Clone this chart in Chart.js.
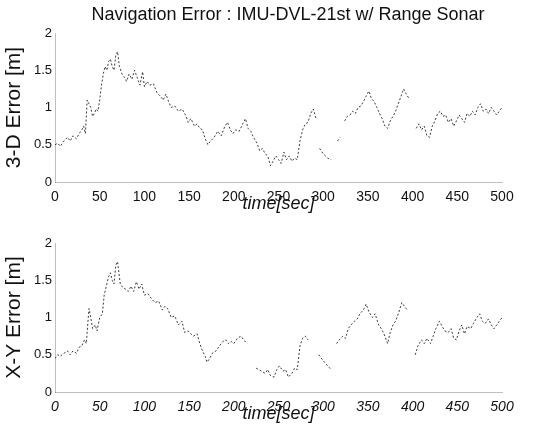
<!DOCTYPE html>
<html>
<head>
<meta charset="utf-8">
<script src="https://cdn.jsdelivr.net/npm/chart.js@4/dist/chart.umd.min.js"></script>
<style>
  html, body { margin: 0; padding: 0; background: #fff; }
  #wrap { position: relative; width: 544px; height: 425px; }
  .box { position: absolute; left: 0; width: 544px; height: 215px; }
  #title {
    position: absolute; left: 0; top: 4px; width: 576px; text-align: center;
    font: 18px 'Liberation Sans', Arial, Helvetica, sans-serif; color: #111;
  }
</style>
</head>
<body>
<div id="wrap">
  <div class="box" style="top:0"><canvas id="chart-3d"></canvas></div>
  <div class="box" style="top:210px"><canvas id="chart-xy"></canvas></div>
  <div id="title"></div>
</div>
<script>
const TITLE = "Navigation Error : IMU-DVL-21st w/ Range Sonar";
const X_TICKS = [0, 50, 100, 150, 200, 250, 300, 350, 400, 450, 500];
const Y_TICKS = [0, 0.5, 1, 1.5, 2];

// 3-D error (null = gap in the trace)
const TIME_3D = [0, 3, 6, 10, 14, 17, 20, 24, 27, 30, 32, 34, 36, 38, 40, 42, 44, 46, 48, 50,
  52, 54, 56, 58, 60, 62, 64, 66, 68, 70, 72, 75, 78, 80, 83, 86, 89, 92, 95, 98,
  100, 103, 106, 110, 114, 118, 121, 124, 127, 130, 134, 138, 142, 146, 149, 152, 156, 159, 162, 165,
  168, 171, 174, 178, 182, 186, 190, 193, 196, 199, 202, 206, 210, 213, 216, 219, 222, 226, 229, 232,
  235, 238, 241, 244, 247, 250, 253, 256, 259, 262, 265, 268, 271, 274, 277, 280, 283, 286, 289, 292,
  294, 296, 300, 305, 309, 312, 316, 319, 321, 324, 327, 330, 333, 336, 339, 342, 345, 348, 351, 354,
  357, 360, 363, 366, 369, 372, 375, 378, 381, 384, 387, 390, 393, 396, 399, 404, 407, 410, 413, 416,
  419, 422, 425, 428, 431, 434, 437, 440, 443, 446, 449, 452, 455, 458, 461, 464, 467, 470, 473, 476,
  479, 482, 485, 488, 491, 494, 497, 500];
const ERR_3D = [0.5, 0.52, 0.48, 0.55, 0.6, 0.55, 0.62, 0.58, 0.65, 0.7, 0.75, 0.65, 1.1, 1.05, 1.0, 0.88, 0.92, 0.98, 0.95, 1.1,
  1.3, 1.45, 1.55, 1.5, 1.62, 1.65, 1.55, 1.5, 1.7, 1.75, 1.55, 1.45, 1.4, 1.35, 1.45, 1.38, 1.5, 1.4, 1.3, 1.48,
  1.28, 1.35, 1.3, 1.32, 1.2, 1.15, 1.1, 1.18, 1.08, 1.0, 1.02, 0.95, 0.98, 0.9, 0.8, 0.85, 0.75, 0.78, 0.72, 0.7,
  0.58, 0.5, 0.55, 0.6, 0.68, 0.62, 0.75, 0.8, 0.7, 0.65, 0.7, 0.68, 0.78, 0.85, 0.72, 0.68, 0.6, 0.52, 0.42, 0.45,
  0.38, 0.35, 0.22, 0.28, 0.35, 0.3, 0.25, 0.4, 0.3, 0.35, 0.28, 0.32, 0.3, 0.55, 0.7, 0.78, 0.8, 0.92, 0.98, 0.85,
  null, 0.45, 0.38, 0.32, 0.3, null, 0.55, 0.6, null, 0.82, 0.88, 0.9, 0.95, 0.92, 1.0, 1.02, 1.08, 1.15, 1.22, 1.12,
  1.08, 1.0, 0.92, 0.85, 0.75, 0.72, 0.82, 0.88, 0.95, 1.05, 1.15, 1.25, 1.18, 1.12, null, 0.72, 0.78, 0.7, 0.75, 0.62,
  0.6, 0.75, 0.82, 0.92, 0.95, 0.88, 0.9, 0.8, 0.85, 0.75, 0.82, 0.9, 0.85, 0.8, 0.92, 0.88, 0.95, 0.9, 1.0, 1.05,
  0.95, 0.98, 0.92, 1.0, 0.95, 0.9, 0.95, 1.0];

// X-Y error
const TIME_XY = [0, 3, 6, 10, 14, 17, 20, 24, 27, 30, 33, 35, 38, 40, 42, 45, 47, 50, 53, 55,
  58, 60, 62, 64, 66, 68, 70, 73, 76, 79, 82, 85, 88, 91, 94, 97, 100, 104, 108, 112,
  116, 120, 123, 126, 130, 134, 138, 142, 145, 149, 152, 155, 159, 162, 165, 168, 170, 173, 176, 180,
  184, 188, 191, 194, 197, 200, 204, 208, 211, 215, 218, 221, 225, 228, 231, 235, 238, 241, 245, 248,
  251, 255, 258, 261, 265, 268, 271, 274, 277, 280, 283, 286, 290, 295, 300, 305, 309, 312, 315, 318,
  322, 325, 328, 331, 335, 338, 341, 345, 348, 351, 355, 358, 362, 365, 368, 372, 375, 378, 381, 384,
  388, 391, 394, 398, 403, 406, 410, 413, 416, 420, 423, 426, 430, 433, 436, 440, 443, 446, 449, 452,
  455, 458, 461, 465, 468, 472, 475, 478, 481, 485, 488, 491, 494, 497, 500];
const ERR_XY = [0.45, 0.5, 0.48, 0.52, 0.55, 0.5, 0.55, 0.52, 0.6, 0.62, 0.7, 0.65, 1.12, 1.0, 0.85, 0.9, 0.82, 1.0, 1.05, 1.3,
  1.45, 1.55, 1.6, 1.5, 1.45, 1.7, 1.75, 1.45, 1.4, 1.38, 1.35, 1.42, 1.35, 1.48, 1.38, 1.45, 1.3, 1.32, 1.25, 1.2,
  1.22, 1.1, 1.15, 1.12, 1.0, 1.02, 0.9, 0.95, 0.8, 0.82, 0.78, 0.75, 0.78, 0.65, 0.55, 0.48, 0.4, 0.45, 0.52, 0.55,
  0.62, 0.68, 0.7, 0.65, 0.68, 0.65, 0.72, 0.75, 0.7, 0.65, null, null, 0.32, 0.3, 0.28, 0.25, 0.3, 0.22, 0.2, 0.3,
  0.35, 0.28, 0.3, 0.2, 0.25, 0.32, 0.3, 0.62, 0.72, 0.75, 0.7, null, null, 0.5, 0.42, 0.35, 0.3, null, 0.65, 0.7,
  0.75, 0.72, 0.85, 0.9, 0.95, 0.98, 1.05, 1.1, 1.18, 1.08, 1.0, 1.05, 0.9, 0.85, 0.78, 0.65, 0.8, 0.9, 0.95, 1.05,
  1.2, 1.15, 1.1, null, 0.5, 0.62, 0.7, 0.65, 0.72, 0.65, 0.75, 0.85, 0.95, 0.88, 0.82, 0.8, 0.85, 0.72, 0.7, 0.82,
  0.9, 0.78, 0.88, 0.85, 0.92, 1.0, 1.05, 0.95, 0.92, 0.98, 0.9, 0.85, 0.9, 0.95, 1.0];

const FONT = "'Liberation Sans', Arial, Helvetica, sans-serif";

document.getElementById("title").textContent = TITLE;

function toPoints(times, values) {
  return times.map((t, i) => ({ x: t, y: values[i] }));
}

function buildChart(canvasId, times, values, yTitle, italicTicks) {
  const ctx = document.getElementById(canvasId).getContext("2d");
  const faint = "rgba(0, 0, 0, 0.25)";
  return new Chart(ctx, {
    type: "line",
    data: {
      datasets: [{
        data: toPoints(times, values),
        borderColor: "rgba(25, 25, 25, 0.85)",
        borderWidth: 1,
        borderDash: [2, 2],
        pointRadius: 0,
        tension: 0,
        spanGaps: false,
      }],
    },
    options: {
      responsive: true,
      maintainAspectRatio: false,
      animation: false,
      layout: { padding: { top: 33, right: 42, left: 0, bottom: 0 } },
      plugins: {
        legend: { display: false },
        tooltip: { enabled: false },
      },
      scales: {
        x: {
          type: "linear",
          min: 0,
          max: 500,
          afterBuildTicks: (scale) => { scale.ticks = X_TICKS.map((v) => ({ value: v })); },
          afterFit: (scale) => { scale.height = 33; },
          grid: { display: false, drawTicks: false },
          border: { display: true, color: faint, dash: [1, 4] },
          ticks: {
            color: "#111",
            padding: 7,
            maxRotation: 0,
            font: { family: FONT, size: 14, style: italicTicks ? "italic" : "normal" },
          },
          title: {
            display: true,
            text: "time[sec]",
            color: "#111",
            padding: 0,
            font: { family: FONT, size: 18, style: "italic" },
          },
        },
        y: {
          min: 0,
          max: 2,
          afterBuildTicks: (scale) => { scale.ticks = Y_TICKS.map((v) => ({ value: v })); },
          afterFit: (scale) => { scale.width = 55; },
          grid: { display: false, drawTicks: false },
          border: { display: true, color: faint, dash: [2, 3] },
          ticks: {
            color: "#111",
            padding: 3,
            font: { family: FONT, size: 13 },
            callback: (v) => String(v),
          },
          title: {
            display: true,
            text: yTitle,
            color: "#111",
            padding: { top: 2, bottom: 0 },
            font: { family: FONT, size: 21 },
          },
        },
      },
    },
  });
}

buildChart("chart-3d", TIME_3D, ERR_3D, "3-D Error [m]", false);
buildChart("chart-xy", TIME_XY, ERR_XY, "X-Y Error [m]", true);
</script>
</body>
</html>
